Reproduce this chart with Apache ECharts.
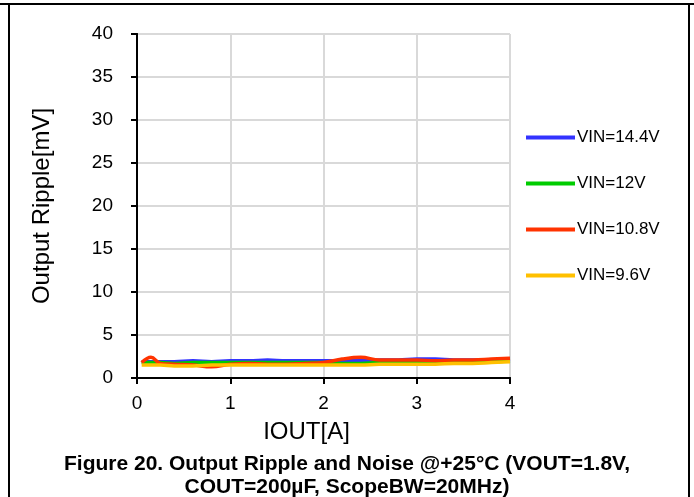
<!DOCTYPE html>
<html><head><meta charset="utf-8">
<script src="https://cdn.jsdelivr.net/npm/echarts@6/dist/echarts.min.js"></script>
<style>html,body{margin:0;padding:0;background:#fff;}#c{width:694px;height:497px;}</style>
</head><body><div id="c"></div>
<script>
var IOUT = [0.05,0.15,0.25,0.4,0.6,0.8,1.0,1.2,1.4,1.6,1.8,2.0,2.2,2.4,2.6,2.8,3.0,3.2,3.4,3.6,3.8,4.0];
var VIN144 = [1.9,1.9,1.9,1.9,2.0,1.9,2.0,2.0,2.1,2.0,2.0,2.0,2.0,2.0,2.1,2.1,2.2,2.2,2.1,2.1,2.1,2.2];
var VIN12  = [1.8,1.8,1.8,1.7,1.8,1.8,1.8,1.8,1.8,1.8,1.8,1.8,1.7,1.7,1.8,1.8,1.8,1.8,1.8,1.9,1.9,2.0];
var VIN108 = [1.8,2.4,1.7,1.6,1.5,1.3,1.6,1.7,1.6,1.6,1.7,1.8,2.2,2.4,2.1,2.1,2.1,2.0,2.1,2.1,2.2,2.3];
var VIN96  = [1.5,1.5,1.5,1.4,1.4,1.5,1.5,1.5,1.5,1.5,1.5,1.5,1.5,1.5,1.6,1.6,1.6,1.6,1.7,1.7,1.8,1.9];
var SERIES_NAMES = ['VIN=14.4V','VIN=12V','VIN=10.8V','VIN=9.6V'];
var COLORS = ['#3333ff','#00cc00','#ff3300','#ffc000'];
var DATA = [VIN144, VIN12, VIN108, VIN96];

function pairs(ys){ return IOUT.map(function(x,i){return [x, ys[i]];}); }
var chart = echarts.init(document.getElementById('c'));
var font = '"Liberation Sans", Arial, sans-serif';
var frameAxis = {axisLine:{show:true, lineStyle:{color:'#000', width:2}}, axisTick:{show:false}, axisLabel:{show:false}, splitLine:{show:false}};
chart.setOption({
  animation:false,
  textStyle:{fontFamily:font},
  grid:{left:137, top:34, width:373, height:344},
  legend:{orient:'vertical', left:521, top:124, itemWidth:49, itemHeight:4, itemGap:29,
    icon:'rect', textStyle:{fontFamily:font, fontSize:17, color:'#000', padding:[0,0,0,-3]},
    data:SERIES_NAMES},
  xAxis:[{type:'value', min:0, max:4, interval:1,
    name:'IOUT[A]', nameLocation:'middle', nameGap:42,
    nameTextStyle:{fontSize:24, color:'#000', fontFamily:font, padding:[0,34,0,0]},
    axisLine:{lineStyle:{color:'#000', width:2}},
    axisTick:{show:true, inside:false, length:6, lineStyle:{color:'#000', width:2}},
    axisLabel:{fontSize:19, color:'#000', margin:16, fontFamily:font},
    splitLine:{show:true, lineStyle:{color:'#d9d9d9', width:2}}},
    Object.assign({type:'value', min:0, max:4, position:'top'}, frameAxis)],
  yAxis:[{type:'value', min:0, max:40, interval:5,
    name:'Output Ripple[mV]', nameLocation:'middle', nameGap:83, nameTextStyle:{fontSize:24, color:'#000', fontFamily:font},
    axisLine:{lineStyle:{color:'#000', width:2}},
    axisTick:{show:true, inside:false, length:6, lineStyle:{color:'#000', width:2}},
    axisLabel:{fontSize:19, color:'#000', margin:24, fontFamily:font},
    splitLine:{show:true, lineStyle:{color:'#d9d9d9', width:2}}},
    Object.assign({type:'value', min:0, max:40, position:'right'}, frameAxis)],
  series: DATA.map(function(d,i){
    return {name:SERIES_NAMES[i], type:'line', data:pairs(d), smooth:0.4, symbol:'none',
      lineStyle:{color:COLORS[i], width:3.5}, itemStyle:{color:COLORS[i]}};
  }),
  graphic:[
    {type:'line', shape:{x1:0,y1:4,x2:694,y2:4}, style:{stroke:'#000', lineWidth:2}},
    {type:'line', shape:{x1:9,y1:4,x2:9,y2:497}, style:{stroke:'#000', lineWidth:2}},
    {type:'line', shape:{x1:689,y1:4,x2:689,y2:497}, style:{stroke:'#000', lineWidth:2}},
    {type:'text', left:'center', top:454, style:{text:'Figure 20. Output Ripple and Noise @+25°C (VOUT=1.8V,', font:'bold 21px '+font, fill:'#000'}},
    {type:'text', left:'center', top:477, style:{text:'COUT=200µF, ScopeBW=20MHz)', font:'bold 21px '+font, fill:'#000'}}
  ]
});
</script></body></html>
